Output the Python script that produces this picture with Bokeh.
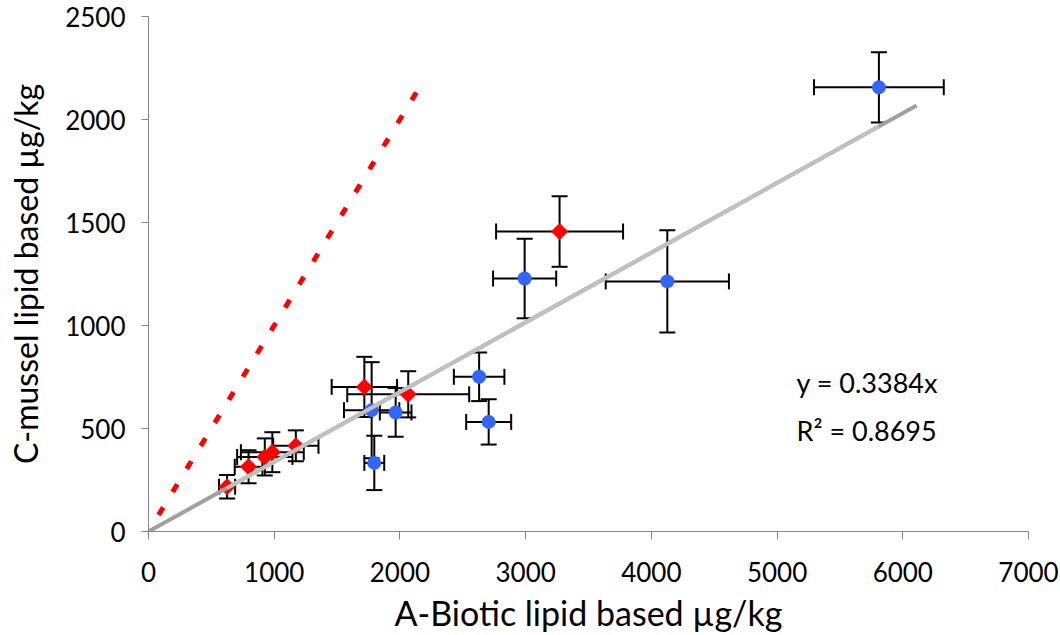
import math
from bokeh.plotting import figure
from bokeh.models import FixedTicker, Label, ColumnDataSource
from bokeh.embed import file_html
from bokeh.resources import INLINE

# ---- data ----
blue_x = [1775, 1796, 1966, 2630, 2706, 2992, 4127, 5810]
blue_y = [589, 333, 578, 751, 532, 1228, 1214, 2156]
blue_xerr = [220, 79, 126, 201, 179, 251, 490, 516]
blue_yerr = [233, 132, 118, 118, 110, 193, 248, 170]

red_x = [625, 796, 925, 985, 1172, 1717, 2066, 3270]
red_y = [217, 314, 362, 385, 416, 702, 666, 1456]
red_xerr = [64, 110, 220, 250, 180, 260, 485, 505]
red_yerr = [57, 80, 90, 97, 75, 146, 112, 171]

slope = 0.3384
r_squared = 0.8695
trend_forecast_end = 6110
one_to_one = [80, 2190]

x_ticks = [0, 1000, 2000, 3000, 4000, 5000, 6000, 7000]
y_ticks = [0, 500, 1000, 1500, 2000, 2500]

FONT = "Lato"
AXIS_GREY = "#868686"

p = figure(width=1060, height=635, x_range=(0, 7000), y_range=(0, 2500),
           output_backend="svg", toolbar_location=None,
           min_border_left=148, min_border_right=32, min_border_top=16,
           min_border_bottom=103)
p.outline_line_color = None
p.grid.visible = False

for ax in (p.xaxis[0], p.yaxis[0]):
    ax.axis_line_color = AXIS_GREY
    ax.major_tick_line_color = AXIS_GREY
    ax.minor_tick_line_color = None
    ax.major_tick_in = 0
    ax.major_label_text_font = FONT
    ax.major_label_text_font_size = "26px"
    ax.major_label_text_color = "#000000"
    ax.axis_label_text_font = FONT
    ax.axis_label_text_font_style = "normal"
    ax.axis_label_text_color = "#000000"

p.xaxis.axis_label_text_font_size = "34px"
p.yaxis.axis_label_text_font_size = "32px"
p.xaxis.ticker = FixedTicker(ticks=x_ticks)
p.yaxis.ticker = FixedTicker(ticks=y_ticks)
p.xaxis.major_tick_out = 8
p.yaxis.major_tick_out = 7
p.xaxis.major_label_standoff = 22
p.yaxis.major_label_standoff = 16
p.xaxis.axis_label = "A-Biotic lipid based µg/kg"
p.yaxis.axis_label = "C-mussel lipid based µg/kg"
p.xaxis.axis_label_standoff = 7
p.yaxis.axis_label_standoff = 17


def add_errorbars(xs, ys, xe, ye):
    src = ColumnDataSource(dict(
        x=xs, y=ys,
        x0=[a - b for a, b in zip(xs, xe)], x1=[a + b for a, b in zip(xs, xe)],
        y0=[a - b for a, b in zip(ys, ye)], y1=[a + b for a, b in zip(ys, ye)],
    ))
    p.segment(x0="x0", y0="y", x1="x1", y1="y", source=src, line_color="black", line_width=2)
    p.segment(x0="x", y0="y0", x1="x", y1="y1", source=src, line_color="black", line_width=2)
    for col in ("y0", "y1"):
        p.scatter(x="x", y=col, source=src, marker="dash", size=16,
                  line_color="black", line_width=2)
    for col in ("x0", "x1"):
        p.scatter(x=col, y="y", source=src, marker="dash", size=16, angle=math.pi / 2,
                  line_color="black", line_width=2)


add_errorbars(blue_x, blue_y, blue_xerr, blue_yerr)
add_errorbars(red_x, red_y, red_xerr, red_yerr)

p.scatter(blue_x, blue_y, marker="circle", size=14, fill_color="#3366FF", line_color=None)
p.scatter(red_x, red_y, marker="square", angle=math.pi / 4, size=12,
          fill_color="#FF0000", line_color=None)

# trend lines (forecast extension darker, fitted range lighter)
p.line([0, trend_forecast_end], [0, slope * trend_forecast_end],
       line_color="#A0A0A0", line_width=4)
all_x = blue_x + red_x
xmin, xmax = min(all_x), max(all_x)
p.line([xmin, xmax], [slope * xmin, slope * xmax], line_color="#C0C0C0", line_width=4)

# 1:1 line
p.line(one_to_one, one_to_one, line_color="#FF0000", line_width=5, line_dash="9 18")

p.add_layout(Label(x=5155, y=725, text=f"y = {slope}x", text_font=FONT,
                   text_font_size="27px", text_color="black", text_baseline="alphabetic"))
p.add_layout(Label(x=5155, y=490, text=f"R² = {r_squared}", text_font=FONT,
                   text_font_size="27px", text_color="black", text_baseline="alphabetic"))

open("out.html", "w").write(file_html(p, INLINE))
